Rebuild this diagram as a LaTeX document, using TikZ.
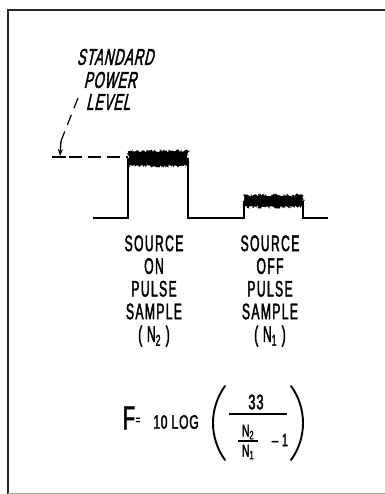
\documentclass[tikz,border=0pt]{standalone}
\usepackage{fontspec}
\usetikzlibrary{decorations.pathmorphing,arrows.meta}
\newfontfamily\lab[FakeStretch=0.54,LetterSpace=6,FakeBold=1.8]{Liberation Sans}
\newfontfamily\fml[FakeStretch=0.62,LetterSpace=4,FakeBold=1.8]{Liberation Sans}
\newfontfamily\labit[FakeStretch=0.56,FakeSlant=0.22,FakeBold=1.8,LetterSpace=4]{Liberation Sans}
\begin{document}
\begin{tikzpicture}[x=1pt,y=-1pt,
  frameline/.style={line width=2.2pt,draw=black!85},
  pulse/.style={line width=1.8pt,line join=miter},
  noise/.style={fill=black,decorate,decoration={random steps,segment length=0.8pt,amplitude=1.6pt}},
  lbl/.style={inner sep=0pt,align=center,font=\lab\fontsize{22.5}{22.7}\selectfont},
  ital/.style={inner sep=0pt,font=\labit\fontsize{23}{22}\selectfont},
  leader/.style={line width=1.2pt,dash pattern=on 11pt off 7pt},
  paren/.style={line width=1.9pt,line cap=round},
  ftext/.style={inner sep=0pt}]
\useasboundingbox (0,0) rectangle (384,494);
\pgfmathsetseed{11}
% frame
\draw[frameline] (8,494) -- (8,10) -- (386,10);
\draw[line width=0.8pt,draw=black!35] (8,493) -- (386,493);
% noise bands
\fill[noise] (128,151) rectangle (188,166);
\fill[noise] (244,195) rectangle (303,207);
% pulse trace
\draw[pulse] (93,218) -- (128,218) -- (128,158) (188,158) -- (188,218) -- (244,218) -- (244,201) (303,201) -- (303,218) -- (328,218);
% standard power level label
\node[ital] (std) at (115,57) {STANDARD};
\node[ital] (pow) at (110,80) {POWER};
\node[ital] (lev) at (108,102) {LEVEL};
\coordinate (lead) at (78,98);
\coordinate (stem) at (61,141);
\coordinate (lvl) at (60,156);
\coordinate (barl) at (52,157);
\coordinate (barr) at (66,157);
\coordinate (dashstart) at (69,157);
\coordinate (dashend) at (128,157);
\draw[leader] (lead) -- (stem);
\draw[line width=1.3pt,-{Stealth[length=7pt,width=5pt]}] (stem) -- (lvl);
\draw[line width=1.4pt] (barl) -- (barr);
\draw[line width=1.2pt,dash pattern=on 13pt off 6pt] (dashstart) -- (dashend);
% sample labels
\node[lbl] (on) at (154,291) {SOURCE\\ON\\PULSE\\SAMPLE\\( N\textsubscript{2} )};
\node[lbl] (off) at (270,291) {SOURCE\\OFF\\PULSE\\SAMPLE\\( N\textsubscript{1} )};
% formula
\node[ftext,font=\fml\fontsize{33}{33}\selectfont] (F) at (129,418) {F};
\node[ftext,font=\fml\fontsize{13}{13}\selectfont] (eq) at (138,421) {=};
\node[ftext,font=\fml\fontsize{19.5}{20}\selectfont] (log) at (176,422) {10 LOG};
\draw[paren] (225,386) .. controls (209,408) and (209,438) .. (225,460);
\draw[paren] (291,386) .. controls (307,408) and (307,438) .. (291,460);
\node[ftext,font=\fml\fontsize{21}{21}\selectfont] (num) at (256,402) {33};
\draw[line width=1.4pt] (229,414) -- (287,414);
\node[ftext,font=\fml\fontsize{17}{17}\selectfont] (n2) at (248,432) {N\textsubscript{2}};
\draw[line width=1.2pt] (238,441) -- (258,441);
\node[ftext,font=\fml\fontsize{17}{17}\selectfont] (n1) at (248,452) {N\textsubscript{1}};
\node[ftext,font=\fml\fontsize{18}{18}\selectfont] (m1) at (280,440) {– 1};
\end{tikzpicture}
\end{document}
